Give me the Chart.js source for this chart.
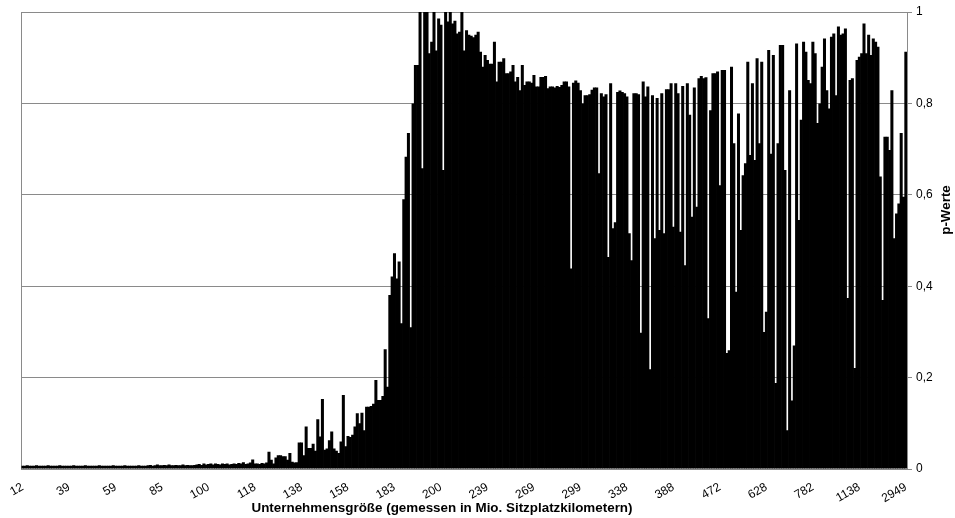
<!DOCTYPE html>
<html>
<head>
<meta charset="utf-8">
<script src="https://cdn.jsdelivr.net/npm/chart.js@4/dist/chart.umd.min.js"></script>
<style>
html,body{margin:0;padding:0;background:#fff;}
#wrap{width:955px;height:518px;position:relative;}
</style>
</head>
<body>
<div id="wrap"><canvas id="c" width="955" height="518"></canvas></div>
<script>
// ---- data ----
const tickLabels = ['12','39','59','85','100','118','138','158','183','200','239','269','299','338','388','472','628','782','1138','2949'];
const yTickValues = [0, 0.2, 0.4, 0.6, 0.8, 1];
const yTickLabels = ['0','0,2','0,4','0,6','0,8','1'];
const xTitle = 'Unternehmensgröße (gemessen in Mio. Sitzplatzkilometern)';
const yTitle = 'p-Werte';
const LABEL_STEP = 20;

const pSmall = [
0.007,0.007,0.008,0.007,0.007,0.007,0.008,0.007,0.007,0.007,
0.007,0.008,0.007,0.007,0.007,0.007,0.008,0.007,0.007,0.007,
0.007,0.007,0.008,0.007,0.007,0.007,0.007,0.008,0.007,0.007,
0.007,0.007,0.007,0.008,0.007,0.007,0.007,0.007,0.007,0.008,
0.007,0.007,0.007,0.007,0.008,0.007,0.007,0.007,0.007,0.007,
0.008,0.007,0.007,0.007,0.008,
0.009,0.007,0.008,0.010,0.008,0.008,0.009,0.008,0.010,0.008,
0.008,0.009,0.008,0.008,0.010,0.008,0.009,0.008,0.008,0.009,0.010,
0.011,0.009,0.012,0.010,0.011,0.012,0.010,0.012,0.011,0.010,
0.012,0.011,0.012,0.010,0.011,0.012,0.011,0.013,0.012,0.015,0.011
];
const pRise = [
0.012,0.014,0.021,0.012,0.012,0.011,0.013,0.012,0.014,0.038,
0.020,0.012,0.025,0.030,0.030,0.028,0.028,0.020,0.035,0.016,
0.014,0.015,0.058,0.058,0.030,0.093,0.046,0.046,0.055,0.040,
0.109,0.071,0.153,0.042,0.045,0.063,0.082,0.045,0.040,0.035,
0.060,0.162,0.050,0.072,0.070,0.075,0.093,0.122,0.100,0.123,
0.085,0.136,0.136,0.138,0.143,0.195,0.151,0.151,0.160,0.262,
0.180,0.381,0.421,0.472,0.417,0.454,0.319,0.590,0.683,0.735
];
const pPeak = [
0.310,0.800,0.884,0.884,1.000,0.658,1.000,1.000,0.910,0.935,
1.000,0.916,0.986,0.972,0.654,1.000,0.979,1.000,0.975,0.981,
0.953,0.957,1.000,0.916,0.960,0.950,0.948,0.945,0.950,0.957,
0.913,0.880,0.906,0.895,0.887,0.887,0.935,0.848,0.891,0.891,
0.899,0.866,0.866,0.870,0.884,0.848,0.858,0.829,0.884,0.840,
0.848,0.848,0.845,0.862,0.837,0.837,0.858,0.858,0.860,0.833,
0.837,0.837,0.835,0.838,0.836,0.840,0.848,0.848,0.837,0.439,
0.845,0.850,0.845,0.829,0.800,0.818,0.818,0.820,0.830,0.835
];
const pMid = [
0.835,0.647,0.822,0.815,0.820,0.464,0.844,0.527,0.540,0.825,
0.828,0.825,0.822,0.815,0.516,0.457,0.822,0.822,0.820,0.298,
0.848,0.815,0.837,0.218,0.818,0.505,0.812,0.523,0.822,0.516,
0.831,0.831,0.844,0.530,0.844,0.822,0.519,0.838,0.446,0.844,
0.775,0.552,0.835,0.574,0.855,0.860,0.855,0.857,0.330,0.785,
0.866,0.866,0.870,0.621,0.873,0.873,0.254,0.260,0.880,0.713
];
const pLarge = [
0.388,0.778,0.523,0.643,0.669,0.891,0.687,0.844,0.676,0.899,
0.713,0.891,0.300,0.344,0.917,0.690,0.906,0.188,0.713,0.928,
0.928,0.654,0.085,0.829,0.150,0.270,0.931,0.545,0.764,0.935,
0.913,0.851,0.844,0.935,0.910,0.757,0.800,0.880,0.942,0.829,
0.789,0.946,0.953,0.818,0.968,0.950,0.953,0.964,0.374,0.851,
0.855,0.221,0.895,0.902,0.910,0.975,0.910,0.950,0.906,0.942,
0.935,0.924,0.640,0.370,0.727,0.727,0.698,0.829,0.505,0.559,
0.581,0.735,0.596,0.913
];

const pValues = [].concat(pSmall, pRise, pPeak, pMid, pLarge);
const categories = pValues.map((_, i) => (i % LABEL_STEP === 0 ? tickLabels[i / LABEL_STEP] : ''));

// ---- drawing ----
const FONT = '"Liberation Sans", Arial, sans-serif';
const GRID = '#8a8a8a';

const extras = {
  id: 'extras',
  beforeDatasetsDraw(chart) {
    const {ctx, chartArea: a} = chart;
    ctx.save();
    ctx.strokeStyle = GRID;
    ctx.lineWidth = 1;
    ctx.beginPath();
    ctx.moveTo(Math.round(a.left) + 0.5, a.top);
    ctx.lineTo(Math.round(a.left) + 0.5, a.bottom);
    ctx.stroke();
    ctx.restore();
  },
  afterDraw(chart) {
    const {ctx} = chart;
    ctx.save();
    ctx.fillStyle = '#000';
    ctx.font = 'bold 13.4px ' + FONT;
    ctx.textAlign = 'center';
    ctx.textBaseline = 'middle';
    ctx.fillText(xTitle, 442, 508);
    ctx.translate(946, 210);
    ctx.rotate(-Math.PI / 2);
    ctx.fillText(yTitle, 0, 0);
    ctx.restore();
  }
};

new Chart(document.getElementById('c'), {
  type: 'bar',
  data: {
    labels: categories,
    datasets: [{
      data: pValues,
      backgroundColor: '#000',
      borderWidth: 0,
      barPercentage: 1.3,
      categoryPercentage: 1
    }]
  },
  options: {
    responsive: false,
    devicePixelRatio: 1,
    animation: false,
    layout: {padding: {left: 20, top: 12, right: 0, bottom: 0}},
    plugins: {legend: {display: false}, tooltip: {enabled: false}},
    scales: {
      x: {
        type: 'category',
        grid: {display: false, drawTicks: false},
        border: {display: true, color: GRID, width: 1},
        ticks: {
          autoSkip: false,
          minRotation: 30,
          maxRotation: 30,
          padding: 11,
          color: '#000',
          font: {family: FONT, size: 12}
        },
        afterFit(s) { s.height = 49; }
      },
      y: {
        position: 'right',
        min: 0,
        max: 1,
        afterBuildTicks(s) { s.ticks = yTickValues.map(v => ({value: v})); },
        ticks: {
          callback: (v, i) => yTickLabels[i],
          color: '#000',
          padding: 4,
          font: {family: FONT, size: 12}
        },
        grid: {color: GRID, lineWidth: 1, tickLength: 5},
        border: {display: true, color: GRID, width: 1},
        afterFit(s) { s.width = 48; }
      }
    }
  },
  plugins: [extras]
});
</script>
</body>
</html>
